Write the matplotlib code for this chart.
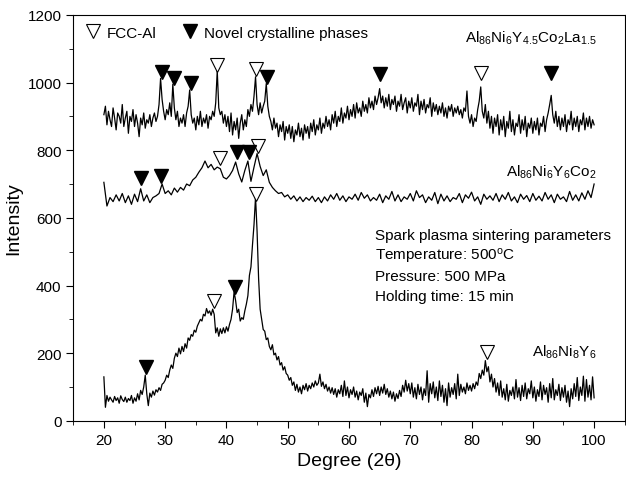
import numpy as np
import matplotlib
matplotlib.use("Agg")
import matplotlib.pyplot as plt
from matplotlib.lines import Line2D
from matplotlib.ticker import MultipleLocator

plt.rcParams['font.family'] = ['Liberation Sans', 'DejaVu Sans']

# Al86Ni8Y6 (bottom), 20..100 deg, step 0.25
al_ni8_y6 = [
    130, 40, 75, 58, 70, 62, 55, 72, 60, 68, 52, 74, 63, 57, 70, 55, 66, 60, 75, 52,
    68, 58, 80, 62, 90, 78, 100, 135, 80, 45, 82, 70, 88, 76, 92, 85, 98, 90, 108, 112,
    120, 135, 128, 150, 165, 155, 185, 200, 190, 215, 198, 220, 205, 228, 215, 245, 238, 255, 250, 268,
    262, 280, 290, 300, 295, 315, 310, 332, 318, 325, 312, 330, 315, 260, 275, 250, 272, 258, 275, 260,
    278, 265, 285, 300, 330, 382, 355, 320, 330, 295, 305, 300, 325, 345, 370, 430, 455, 520, 580, 662,
    560, 420, 330, 300, 270, 265, 240, 245, 220, 210, 225, 195, 200, 180, 190, 165, 172, 150, 160, 140,
    135, 120, 128, 105, 115, 90, 108, 85, 100, 80, 105, 92, 110, 88, 105, 95, 112, 100, 118, 105,
    112, 138, 102, 115, 95, 108, 88, 100, 82, 98, 78, 95, 70, 92, 80, 105, 72, 118, 75, 100,
    68, 92, 78, 100, 70, 88, 62, 85, 75, 95, 55, 82, 42, 78, 68, 92, 72, 98, 80, 102,
    75, 100, 82, 108, 78, 95, 70, 88, 65, 85, 58, 80, 66, 90, 72, 105, 85, 120, 88, 110,
    80, 112, 70, 98, 65, 108, 78, 100, 62, 95, 75, 148, 55, 110, 80, 115, 68, 100, 60, 118,
    72, 105, 55, 95, 45, 112, 70, 98, 78, 110, 65, 138, 75, 108, 85, 100, 80, 112, 90, 105,
    88, 110, 95, 115, 105, 140, 125, 150, 135, 178, 145, 160, 115, 138, 100, 125, 85, 112, 75, 118,
    70, 95, 62, 108, 58, 90, 75, 100, 65, 122, 70, 98, 60, 105, 72, 112, 65, 95, 80, 118,
    68, 100, 58, 92, 72, 115, 62, 105, 78, 98, 55, 110, 68, 125, 62, 92, 75, 108, 60, 98,
    70, 105, 55, 88, 42, 95, 65, 110, 72, 128, 60, 100, 75, 132, 58, 122, 70, 105, 62, 130,
    68]

# Al86Ni6Y6Co2 (middle), 20..100 deg, step 0.5
al_ni6_y6_co2 = [
    705, 635, 660, 648, 668, 650, 672, 645, 665, 640,
    670, 648, 686, 650, 668, 645, 660, 665, 672, 700,
    672, 680, 668, 688, 676, 690, 682, 700, 695, 712,
    720, 735, 748, 768, 748, 758, 742, 750, 745, 720,
    715, 725, 740, 765, 730, 706, 740, 768, 708, 750,
    790, 752, 725, 742, 705, 690, 680, 672, 675, 662,
    668, 655, 665, 650, 662, 648, 660, 652, 664, 648,
    660, 645, 662, 650, 668, 655, 672, 652, 665, 648,
    662, 655, 670, 652, 675, 658, 668, 650, 660, 652,
    670, 645, 665, 655, 678, 650, 668, 648, 662, 655,
    672, 650, 680, 660, 668, 645, 662, 652, 675, 642,
    670, 650, 665, 648, 660, 655, 672, 645, 668, 658,
    676, 650, 662, 640, 670, 655, 665, 652, 672, 648,
    668, 655, 675, 650, 662, 645, 670, 655, 666, 648,
    672, 652, 664, 650, 675, 655, 668, 645, 670, 655,
    662, 648, 678, 652, 668, 650, 674, 655, 680, 660,
    700]

# Al86Ni6Y4.5Co2La1.5 (top), 20..100 deg, step 0.25
al_ni6_y45_co2_la15 = [
    905, 930, 875, 915, 890, 870, 925, 895, 860, 910, 900, 880, 935, 870, 895, 915, 850, 900, 885, 920,
    870, 905, 880, 840, 895, 875, 910, 865, 890, 880, 905, 870, 895, 910, 885, 900, 935, 1012, 950, 915,
    890, 920, 905, 940, 900, 995, 925, 890, 915, 870, 895, 880, 905, 870, 910, 930, 978, 905, 880, 895,
    860, 900, 875, 915, 870, 895, 880, 905, 865, 900, 890, 915, 900, 940, 1035, 925, 905, 915, 880, 905,
    870, 900, 855, 910, 845, 885, 860, 895, 835, 880, 905, 860, 890, 870, 920, 900, 935, 915, 960, 1017,
    935, 905, 940, 910, 930, 945, 997, 930, 900, 885, 860, 895, 865, 880, 840, 875, 855, 885, 830, 870,
    850, 875, 835, 870, 825, 860, 845, 880, 840, 865, 830, 875, 850, 870, 835, 880, 855, 890, 845, 875,
    860, 895, 850, 880, 865, 900, 870, 890, 860, 905, 880, 915, 870, 900, 885, 925, 880, 910, 895, 930,
    890, 920, 900, 935, 895, 940, 910, 925, 900, 945, 915, 935, 910, 955, 925, 945, 920, 960, 935, 955,
    982, 940, 960, 925, 955, 930, 965, 920, 950, 935, 960, 915, 945, 930, 965, 920, 940, 955, 910, 945,
    925, 955, 915, 940, 930, 965, 905, 945, 920, 950, 910, 935, 925, 955, 900, 940, 915, 935, 905, 930,
    910, 940, 900, 925, 895, 930, 915, 935, 900, 925, 910, 930, 905, 920, 895, 925, 915, 975, 900, 880,
    905, 870, 895, 885, 920, 945, 987, 915, 895, 935, 880, 915, 865, 900, 850, 895, 870, 905, 845, 890,
    860, 900, 840, 885, 865, 915, 855, 890, 845, 880, 870, 905, 850, 890, 860, 900, 840, 880, 865, 895,
    850, 885, 860, 895, 845, 880, 870, 900, 855, 890, 910, 935, 962, 905, 880, 915, 870, 900, 860, 895,
    870, 905, 855, 890, 875, 915, 860, 895, 870, 900, 855, 890, 875, 910, 860, 895, 870, 900, 865, 890,
    875]

# phase markers (position, height)
fcc_x = [38.5, 44.8, 81.6, 38.9, 45.1, 38.0, 44.9, 82.6]
fcc_y = [1052, 1040, 1029, 777, 813, 353, 671, 204]
novel_x = [29.5, 31.4, 34.2, 46.6, 65.1, 93.0, 26.1, 29.3, 41.8, 43.7, 26.9, 41.4]
novel_y = [1031, 1014, 999, 1017, 1026, 1029, 718, 724, 795, 795, 160, 396]

fig = plt.figure(figsize=(6.26, 4.81), dpi=100)
ax = fig.add_axes([0.117, 0.123, 0.881, 0.844])

for s in [al_ni8_y6, al_ni6_y6_co2, al_ni6_y45_co2_la15]:
    x = np.linspace(20, 100, len(s))
    ax.plot(x, s, color='black', lw=0.9)

ax.plot(fcc_x, fcc_y, 'v', ms=9.5, mfc='white', mec='black', mew=0.8, ls='none')
ax.plot(novel_x, novel_y, 'v', ms=9.5, mfc='black', mec='black', ls='none')

handles = [Line2D([], [], marker='v', ms=9.5, mfc='white', mec='black', mew=0.8, ls='none'),
           Line2D([], [], marker='v', ms=9.5, mfc='black', mec='black', ls='none')]
ax.legend(handles, ['FCC-Al', 'Novel crystalline phases'], loc='upper left', ncol=2,
          frameon=False, fontsize=11, handletextpad=0.3, handlelength=1.2,
          columnspacing=1.6, borderaxespad=0.3, bbox_to_anchor=(0.0, 1.0))

ax.text(100.4, 1135, r'$\mathregular{Al_{86}Ni_{6}Y_{4.5}Co_{2}La_{1.5}}$', ha='right', va='center', fontsize=11)
ax.text(100.4, 739, r'$\mathregular{Al_{86}Ni_{6}Y_{6}Co_{2}}$', ha='right', va='center', fontsize=11)
ax.text(100.4, 207, r'$\mathregular{Al_{86}Ni_{8}Y_{6}}$', ha='right', va='center', fontsize=11)

params = ['Spark plasma sintering parameters', r'Temperature: 500$\mathregular{^o}$C',
          'Pressure: 500 MPa', 'Holding time: 15 min']
for txt, yy in zip(params, [550, 488, 429, 369]):
    ax.text(64.3, yy, txt, ha='left', va='center', fontsize=11)

ax.set_xlim(15, 105)
ax.set_ylim(0, 1200)
ax.xaxis.set_major_locator(MultipleLocator(10))
ax.xaxis.set_minor_locator(MultipleLocator(5))
ax.yaxis.set_major_locator(MultipleLocator(200))
ax.yaxis.set_minor_locator(MultipleLocator(100))
ax.set_xticks(range(20, 101, 10))
ax.tick_params(which='both', direction='out', labelsize=11)
ax.tick_params(which='major', length=5)
ax.tick_params(which='minor', length=3)
ax.set_xlabel('Degree (2\u03b8)', fontsize=14)
ax.set_ylabel('Intensity', fontsize=14)

fig.savefig('out.png', dpi=100)
